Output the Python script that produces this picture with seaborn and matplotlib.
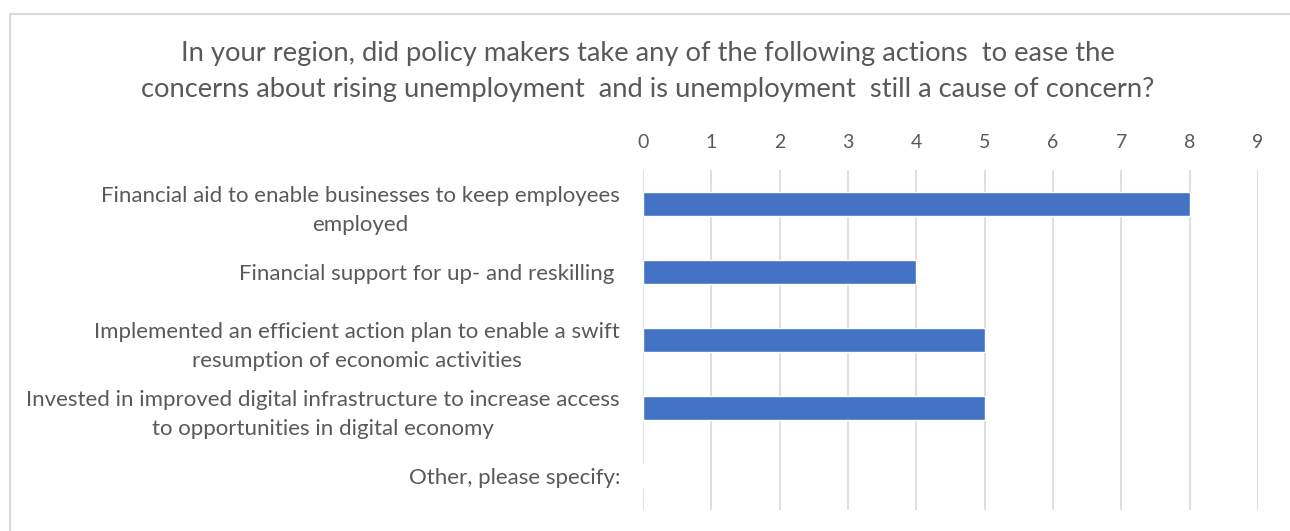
import matplotlib
matplotlib.use("Agg")
import matplotlib.pyplot as plt
import seaborn as sns
import pandas as pd
from matplotlib.patches import Rectangle

categories = [
    "Financial aid to enable businesses to keep employees\nemployed",
    "Financial support for up- and reskilling ",
    "Implemented an efficient action plan to enable a swift\nresumption of economic activities",
    "Invested in improved digital infrastructure to increase access\nto opportunities in digital economy",
    "Other, please specify:",
]
values = [8, 4, 5, 5, 0]
ticks = list(range(0, 10))
title = ("In your region, did policy makers take any of the following actions  to ease the\n"
         "concerns about rising unemployment  and is unemployment  still a cause of concern?")

sns.set_theme(style="white")
plt.rcParams['font.family'] = ['Lato', 'DejaVu Sans']

fig = plt.figure(figsize=(12.9, 5.31), dpi=100)
ax = fig.add_axes([643/1290, 1-510/531, (1258-643)/1290, (510-170)/531])

df = pd.DataFrame({"cat": categories, "val": values})
sns.barplot(data=df, x="val", y="cat", orient="h", color="#4472C4",
            saturation=1, width=0.35, ax=ax)

ax.set_xlim(0, 9)
ax.set_ylim(len(categories) - 0.5, -0.5)
ax.set_xticks(ticks)
ax.xaxis.tick_top()
ax.set_xlabel("")
ax.set_ylabel("")
ax.tick_params(axis="both", length=0, colors="#595959")
ax.tick_params(axis="x", pad=14, labelsize=14)
ax.tick_params(axis="y", pad=16.5, labelsize=16)
for lbl in ax.get_yticklabels():
    lbl.set_horizontalalignment("right")
    lbl.set_multialignment("center")
    lbl.set_linespacing(1.58)
ax.grid(axis="x", color="#D9D9D9", linewidth=1.2)
ax.set_axisbelow(True)
for s in ax.spines.values():
    s.set_visible(False)

fig.text(648/1290, 1-72/531, title, ha="center", va="center", fontsize=19.7,
         color="#595959", linespacing=1.55)

fig.patches.append(Rectangle((10/1290, -0.1), 1.2, 1-14/531+0.1, transform=fig.transFigure,
                             fill=False, edgecolor="#D9D9D9", linewidth=1.5))

fig.savefig("out.png", dpi=100, facecolor="white")
